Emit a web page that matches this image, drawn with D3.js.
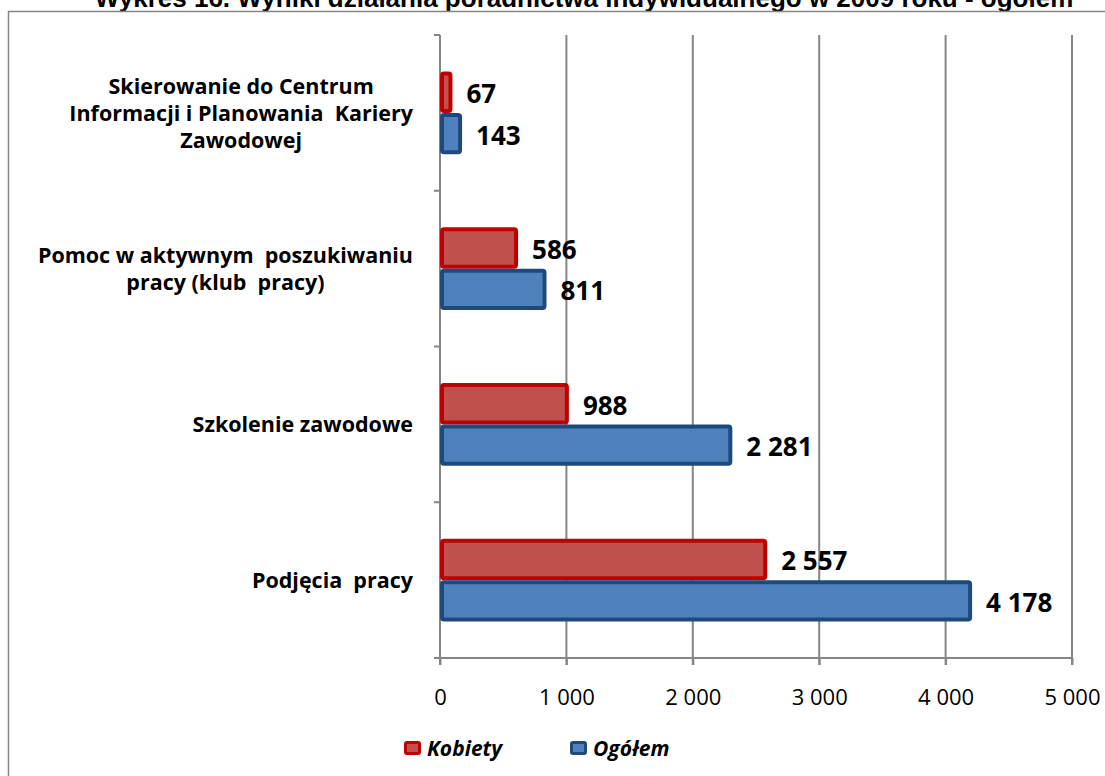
<!DOCTYPE html>
<html>
<head>
<meta charset="utf-8">
<script src="https://cdn.jsdelivr.net/npm/d3@7"></script>
<style>
  body { margin: 0; background: #fff; }
  svg { display: block; }
</style>
</head>
<body>
<div id="host"><svg></svg></div>
<script>
const W = 1105;
const H = 776;

const TITLE = "Wykres 16. Wyniki działania poradnictwa indywidualnego w 2009 roku - ogółem";

const CATEGORIES = [
  ["Skierowanie do Centrum", "Informacji i Planowania  Kariery", "Zawodowej"],
  ["Pomoc w aktywnym  poszukiwaniu", "pracy (klub  pracy)"],
  ["Szkolenie zawodowe"],
  ["Podjęcia  pracy"],
];
const SERIES = ["Kobiety", "Ogółem"];
const KOBIETY = [67, 586, 988, 2557];
const OGOLEM = [143, 811, 2281, 4178];
const X_TICKS = [0, 1000, 2000, 3000, 4000, 5000];

const FILL = { Kobiety: "#c0504d", "Ogółem": "#4f81bd" };
const STROKE = { Kobiety: "#c00000", "Ogółem": "#1f497d" };
const GRID = "#868686";

const FONT = "'Open Sans', sans-serif";

const M = { left: 440, right: 1072, top: 35, bottom: 658 };

const fmt = (v) => d3.format(",")(v).replace(/,/g, " ");

const svg = d3.select("#host svg").attr("width", W).attr("height", H);

// title (top part sits above the frame, as in the source)
svg.append("text")
  .attr("x", 584)
  .attr("y", 7)
  .attr("text-anchor", "middle")
  .attr("font-family", "'Liberation Sans', Arial, sans-serif")
  .attr("font-weight", "bold")
  .attr("font-size", 26)
  .text(TITLE);

// outer frame
svg.append("path")
  .attr("d", `M8.5,${H + 5}V11.5H${W + 5}`)
  .attr("fill", "none")
  .attr("stroke", GRID)
  .attr("stroke-width", 1.5);

const x = d3.scaleLinear().domain([0, 5000]).range([M.left, M.right]);

const keys = CATEGORIES.map((c, i) => i);
const y = d3.scaleBand()
  .domain(keys)
  .range([M.top, M.bottom])
  .paddingInner(0.47)
  .paddingOuter(0.235);
const ySub = d3.scaleBand().domain(SERIES).range([0, y.bandwidth()]);

// vertical gridlines
svg.append("g")
  .selectAll("line")
  .data(X_TICKS.slice(1))
  .join("line")
  .attr("x1", (d) => x(d))
  .attr("x2", (d) => x(d))
  .attr("y1", M.top)
  .attr("y2", M.bottom + 7)
  .attr("stroke", GRID)
  .attr("stroke-width", 2);

// x axis
const xAxis = svg.append("g")
  .attr("transform", `translate(0,${M.bottom})`)
  .call(d3.axisBottom(x).tickValues(X_TICKS).tickFormat(fmt).tickSize(7).tickPadding(24));
xAxis.select(".domain").attr("stroke", GRID).attr("stroke-width", 2)
  .attr("d", `M${M.left - 6},0H${M.right}`);
xAxis.selectAll(".tick line").attr("stroke", GRID).attr("stroke-width", 2);
xAxis.selectAll(".tick text")
  .attr("font-family", FONT)
  .attr("font-size", 22)
  .attr("fill", "#000");

// y axis with ticks between categories
const bounds = [M.top].concat(keys.map((k) => y(k) + y.bandwidth() + y.step() * y.paddingInner() / 2));
bounds[bounds.length - 1] = M.bottom;
svg.append("line")
  .attr("x1", M.left).attr("x2", M.left)
  .attr("y1", M.top).attr("y2", M.bottom + 7)
  .attr("stroke", GRID).attr("stroke-width", 2);
svg.append("g")
  .selectAll("line")
  .data(bounds)
  .join("line")
  .attr("x1", M.left - 6)
  .attr("x2", M.left)
  .attr("y1", (d) => d)
  .attr("y2", (d) => d)
  .attr("stroke", GRID)
  .attr("stroke-width", 2);

// bars
const rows = [];
keys.forEach((k) => {
  rows.push({ k, s: "Kobiety", v: KOBIETY[k] });
  rows.push({ k, s: "Ogółem", v: OGOLEM[k] });
});

svg.append("g")
  .selectAll("rect")
  .data(rows)
  .join("rect")
  .attr("x", x(0) + 2)
  .attr("y", (d) => y(d.k) + ySub(d.s) + 2)
  .attr("width", (d) => x(d.v) - x(0))
  .attr("height", ySub.bandwidth() - 4)
  .attr("rx", 2)
  .attr("fill", (d) => FILL[d.s])
  .attr("stroke", (d) => STROKE[d.s])
  .attr("stroke-width", 4);

// value labels
svg.append("g")
  .selectAll("text")
  .data(rows)
  .join("text")
  .attr("x", (d) => x(d.v) + 18)
  .attr("y", (d) => y(d.k) + ySub(d.s) + ySub.bandwidth() / 2 + 11)
  .attr("font-family", FONT)
  .attr("font-weight", "bold")
  .attr("font-size", 26)
  .attr("fill", "#000")
  .text((d) => fmt(d.v));

// category labels: block right-aligned, lines centred inside it
const LABEL_RIGHT = 413;
const LINE_H = 27;
keys.forEach((k) => {
  const lines = CATEGORIES[k];
  const g = svg.append("g");
  const texts = g.selectAll("text")
    .data(lines)
    .join("text")
    .attr("font-family", FONT)
    .attr("font-weight", "bold")
    .attr("font-size", 21.5)
    .attr("text-anchor", "middle")
    .attr("fill", "#000")
    .style("white-space", "pre")
    .text((d) => d);
  let maxW = 0;
  texts.each(function () { maxW = Math.max(maxW, this.getComputedTextLength()); });
  const cy = y(k) + y.bandwidth() / 2;
  const y0 = cy - ((lines.length - 1) * LINE_H) / 2 + 8;
  texts.attr("x", LABEL_RIGHT - maxW / 2).attr("y", (d, i) => y0 + i * LINE_H);
});

// legend
const legend = svg.append("g").attr("transform", "translate(404,741)");
const items = legend.selectAll("g")
  .data(SERIES)
  .join("g")
  .attr("transform", (d, i) => `translate(${i * 166},0)`);
items.append("rect")
  .attr("x", 1.5).attr("y", 1.5)
  .attr("width", 14).attr("height", 11)
  .attr("rx", 1.5)
  .attr("fill", (d) => FILL[d])
  .attr("stroke", (d) => STROKE[d])
  .attr("stroke-width", 3);
items.append("text")
  .attr("x", 23)
  .attr("y", 15)
  .attr("font-family", FONT)
  .attr("font-weight", "bold")
  .attr("font-style", "italic")
  .attr("font-size", 21)
  .attr("fill", "#000")
  .text((d) => d);
</script>
</body>
</html>
